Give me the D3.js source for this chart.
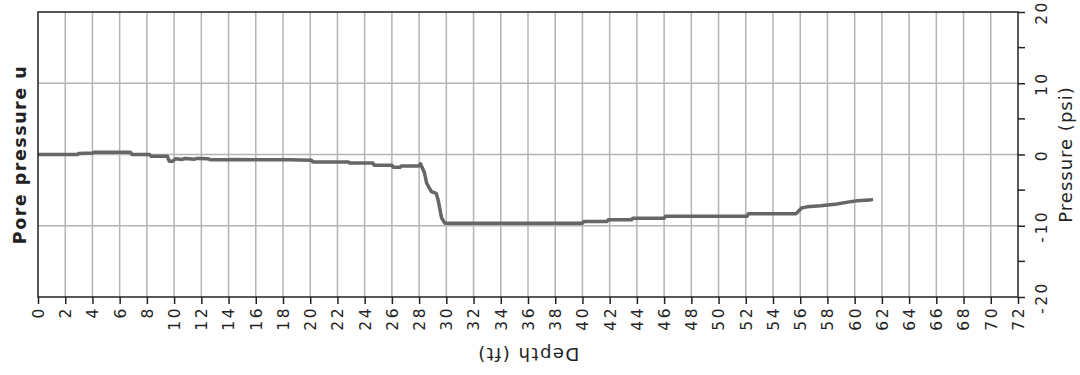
<!DOCTYPE html>
<html>
<head>
<meta charset="utf-8">
<script src="https://cdn.jsdelivr.net/npm/d3@7/dist/d3.min.js"></script>
<style>
  body { margin: 0; background: #fff; }
  text { font-family: "DejaVu Sans", Verdana, sans-serif; fill: #222; }
</style>
</head>
<body>
<div id="chart"></div>
<script>
// values
const depth = [0, 2.9, 3.0, 4.0, 4.1, 6.8, 6.9, 8.2, 8.3, 9.5, 9.65, 9.9, 10.1, 10.6, 10.8, 11.5, 11.7, 12.5, 12.7, 14.0,
  14.2, 18.5, 20.1, 20.2, 22.8, 22.9, 24.6, 24.7, 26.0, 26.1, 26.6, 26.7, 28.0, 28.1, 28.4, 28.55, 28.9, 29.25, 29.4, 29.65,
  29.9, 40.0, 40.1, 41.8, 41.9, 43.6, 43.7, 46.0, 46.1, 52.1, 52.2, 55.7, 56.1, 56.5, 57.5, 58.7, 59.6, 60.2, 61.1, 61.35];
const pressure = [0, 0, 0.15, 0.2, 0.3, 0.3, 0, 0, -0.25, -0.25, -0.95, -0.95, -0.6, -0.7, -0.55, -0.65, -0.55, -0.6, -0.75, -0.75,
  -0.7, -0.75, -0.8, -1.05, -1.05, -1.2, -1.2, -1.5, -1.5, -1.8, -1.8, -1.6, -1.6, -1.3, -2.6, -4.0, -5.2, -5.45, -6.4, -8.9,
  -9.65, -9.65, -9.4, -9.4, -9.15, -9.15, -8.95, -8.95, -8.65, -8.65, -8.3, -8.3, -7.5, -7.35, -7.2, -6.95, -6.65, -6.5, -6.4, -6.3];
const xTicks = d3.range(0, 73, 2);
const yTicks = [-20, -10, 0, 10, 20];
const yMinorTicks = [-15, -5, 5, 15];

drawChart();

function drawChart() {
    let margin = { top: 12, right: 62, bottom: 78, left: 38 },
        W = 1080, H = 375,
        width = W - margin.left - margin.right,
        height = H - margin.top - margin.bottom;

    let svg = d3.select("#chart").append("svg")
        .attr("width", W)
        .attr("height", H);
    let g = svg.append("g")
        .attr("transform", "translate(" + margin.left + "," + margin.top + ")");

    let x = d3.scaleLinear().domain([0, 72]).range([0, width]);
    let y = d3.scaleLinear().domain([-20, 20]).range([height, 0]);

    // grid
    g.append("g").selectAll("line")
        .data(xTicks.slice(1, -1))
        .enter().append("line")
        .attr("x1", d => x(d)).attr("x2", d => x(d))
        .attr("y1", 0).attr("y2", height)
        .attr("stroke", "#b4b4b4").attr("stroke-width", 1.5);
    g.append("g").selectAll("line")
        .data(yTicks.slice(1, -1))
        .enter().append("line")
        .attr("x1", 0).attr("x2", width)
        .attr("y1", d => y(d)).attr("y2", d => y(d))
        .attr("stroke", "#b4b4b4").attr("stroke-width", 1.5);

    // data line
    let pts = depth.map((d, i) => [d, pressure[i]]);
    g.append("path")
        .datum(pts)
        .attr("fill", "none")
        .attr("stroke", "#666")
        .attr("stroke-width", 3.5)
        .attr("stroke-linejoin", "round")
        .attr("d", d3.line().x(d => x(d[0])).y(d => y(d[1])));

    // frame
    g.append("rect")
        .attr("width", width).attr("height", height)
        .attr("fill", "none").attr("stroke", "#222").attr("stroke-width", 1.5);

    // x axis
    let xAxis = g.append("g")
        .attr("transform", "translate(0," + height + ")")
        .call(d3.axisBottom(x).tickValues(xTicks).tickSize(7).tickFormat(d => String(d)));
    xAxis.select(".domain").remove();
    xAxis.selectAll("line").attr("stroke", "#222").attr("stroke-width", 1.5);
    xAxis.selectAll("text")
        .attr("transform", "rotate(-90)")
        .attr("x", -9).attr("y", 0).attr("dy", "0.35em")
        .style("text-anchor", "end")
        .style("font-size", "15.5px")
        .style("letter-spacing", "2.5px")
        .style("font-family", "'DejaVu Sans'");

    // right axis
    let yAxis = g.append("g")
        .attr("transform", "translate(" + width + ",0)")
        .call(d3.axisRight(y).tickValues(yTicks).tickSize(7).tickFormat(d => String(d)));
    yAxis.select(".domain").remove();
    yAxis.selectAll("line").attr("stroke", "#222").attr("stroke-width", 1.5);
    yAxis.selectAll("text")
        .attr("transform", "translate(24,0) rotate(-90)")
        .attr("x", 0).attr("y", 0).attr("dy", "0.35em")
        .style("text-anchor", "middle")
        .style("font-size", "15.5px")
        .style("letter-spacing", "2.5px")
        .style("font-family", "'DejaVu Sans'");
    g.append("g")
        .attr("transform", "translate(" + width + ",0)")
        .selectAll("line")
        .data(yMinorTicks)
        .enter().append("line")
        .attr("x1", 0).attr("x2", 7)
        .attr("y1", d => y(d)).attr("y2", d => y(d))
        .attr("stroke", "#222").attr("stroke-width", 1.5);

    // titles
    svg.append("text")
        .attr("transform", "translate(" + (margin.left + width / 2) + ",354) rotate(180)")
        .attr("dy", "0.35em")
        .style("text-anchor", "middle")
        .style("font-size", "18px")
        .style("letter-spacing", "1.5px")
        .text("Depth (ft)");

    svg.append("text")
        .attr("transform", "translate(1066," + (margin.top + height / 2) + ") rotate(-90)")
        .attr("dy", "0.35em")
        .style("text-anchor", "middle")
        .style("font-size", "18px")
        .style("letter-spacing", "1px")
        .text("Pressure (psi)");

    svg.append("text")
        .attr("transform", "translate(20," + (margin.top + height / 2) + ") rotate(-90)")
        .attr("dy", "0.35em")
        .style("text-anchor", "middle")
        .style("font-size", "17.5px")
        .style("font-weight", "bold")
        .style("letter-spacing", "1.5px")
        .text("Pore pressure u");
}
</script>
</body>
</html>
